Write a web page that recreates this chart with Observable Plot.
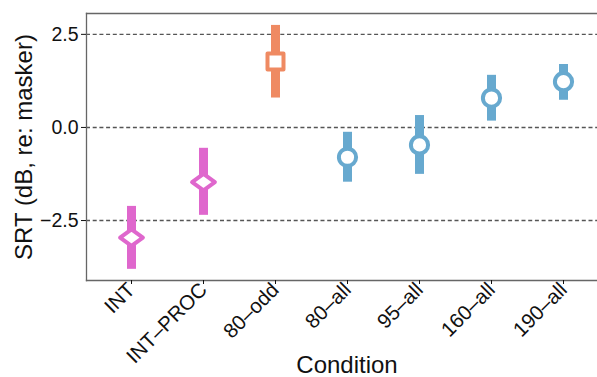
<!DOCTYPE html>
<html>
<head>
<meta charset="utf-8">
<script src="https://cdn.jsdelivr.net/npm/d3@7"></script>
<script src="https://cdn.jsdelivr.net/npm/@observablehq/plot@0.6"></script>
<style>
  html, body { margin: 0; padding: 0; background: #fff; }
  #chart svg { display: block; }
</style>
</head>
<body>
<div id="chart"></div>
<script>
const conditions = ["INT", "INT–PROC", "80–odd", "80–all", "95–all", "160–all", "190–all"];
const srtMean = [-2.96, -1.47, 1.77, -0.80, -0.47, 0.79, 1.23];
const srtLow  = [-3.81, -2.36, 0.79, -1.47, -1.26, 0.17, 0.73];
const srtHigh = [-2.12, -0.56, 2.74, -0.13, 0.32, 1.40, 1.69];
const groups  = ["intact", "intact", "odd", "all", "all", "all", "all"];
const yTicks  = [-2.5, 0, 2.5];
const groupDomain = ["intact", "odd", "all"];
const groupColors = ["#df67cd", "#ef8a62", "#67a9cf"];

const table = conditions.map((c, i) => ({
  condition: c, mean: srtMean[i], low: srtLow[i], high: srtHigh[i], group: groups[i]
}));

const diamond = {draw(ctx) { ctx.moveTo(0, -8.3); ctx.lineTo(11.4, 0); ctx.lineTo(0, 8.3); ctx.lineTo(-11.4, 0); ctx.closePath(); }};
const square = {draw(ctx) { ctx.rect(-8, -8, 16, 16); }};
const circle = {draw(ctx) { ctx.moveTo(8.6, 0); ctx.arc(0, 0, 8.6, 0, 2 * Math.PI); }};

const font = "'Liberation Sans', Arial, Helvetica, sans-serif";

const chart = Plot.plot({
  width: 597,
  height: 377,
  marginLeft: 86,
  marginRight: 0,
  marginTop: 13,
  marginBottom: 97,
  style: {fontFamily: font, background: "#fff", color: "#111"},
  x: {type: "point", domain: conditions, range: [129.3, 564], padding: 0},
  y: {domain: [-4.11, 3.06]},
  color: {domain: groupDomain, range: groupColors},
  symbol: {domain: groupDomain, range: [diamond, square, circle]},
  marks: [
    Plot.ruleY(yTicks, {stroke: "#555", strokeWidth: 1.4, strokeDasharray: "4,2.7"}),
    Plot.frame({anchor: "top", stroke: "#666", strokeWidth: 1.3}),
    Plot.frame({anchor: "left", stroke: "#666", strokeWidth: 1.3}),
    Plot.frame({anchor: "bottom", stroke: "#666", strokeWidth: 1.3}),
    Plot.ruleX(table, {x: "condition", y1: "low", y2: "high", stroke: "group", strokeWidth: 9}),
    Plot.dot(table, {x: "condition", y: "mean", symbol: "group", stroke: "group", fill: "white", strokeWidth: 4, strokeLinejoin: "round"}),
    Plot.axisY({ticks: yTicks, tickFormat: d3.format(".1f"), tickSize: 5, tickPadding: 3, fontSize: 19.5, label: null}),
    Plot.axisX({tickRotate: -45, tickSize: 4, tickPadding: 2, fontSize: 20.5, label: null}),
    Plot.text(["SRT (dB, re: masker)"], {frameAnchor: "left", textAnchor: "middle", text: d => d, rotate: -90, dx: -62, fontSize: 24, fill: "#111"}),
    Plot.text(["Condition"], {frameAnchor: "bottom", text: d => d, dx: 5, dy: 92, fontSize: 24, fill: "#111"})
  ]
});
document.getElementById("chart").appendChild(chart);
</script>
</body>
</html>
